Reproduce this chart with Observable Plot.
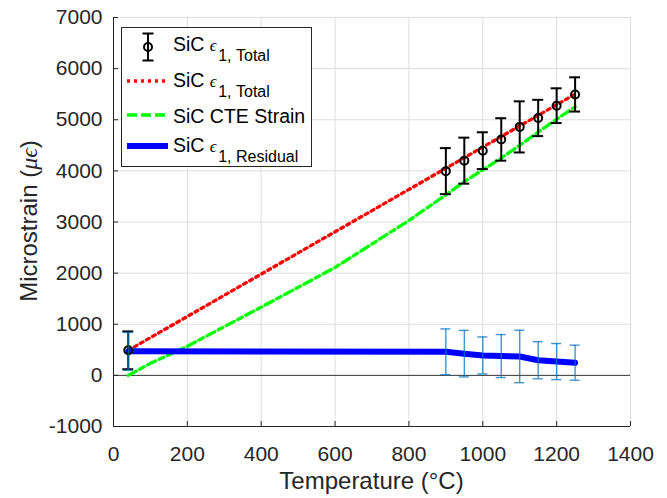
<!DOCTYPE html>
<html>
<head>
<meta charset="utf-8">
<script src="https://cdn.jsdelivr.net/npm/d3@7"></script>
<script src="https://cdn.jsdelivr.net/npm/@observablehq/plot@0.6"></script>
<style>
  html, body { margin: 0; padding: 0; background: #fff; }
  #chart { width: 667px; height: 498px; }
</style>
</head>
<body>
<div id="chart"></div>
<script>
// ---- data ----
const totalTemps   = [40, 900, 950, 1000, 1050, 1100, 1150, 1200, 1250];
const totalMean    = [490, 3995, 4200, 4395, 4615, 4860, 5035, 5275, 5495];
const totalErr     = [370, 450, 450, 360, 415, 500, 355, 340, 335];

const residualTemps = [40, 900, 950, 1000, 1050, 1100, 1150, 1200, 1250];
const residualMean  = [470, 462, 425, 390, 378, 370, 296, 270, 248];
const residualErr   = [370, 447, 455, 362, 420, 513, 363, 353, 343];

const fitTemps = [40, 1250];
const fitTotal = [490, 5500];

const cteTemps  = [40, 100, 200, 400, 600, 800, 900, 950, 1000, 1050, 1100, 1150, 1200, 1250];
const cteStrain = [0, 235, 570, 1335, 2110, 3030, 3530, 3790, 4020, 4250, 4500, 4760, 5010, 5254];

const xTicks = [0, 200, 400, 600, 800, 1000, 1200, 1400];
const yTicks = [-1000, 0, 1000, 2000, 3000, 4000, 5000, 6000, 7000];

const xTitle = "Temperature (°C)";
const yTitle = ["Microstrain (", "μϵ", ")"];
const legendLabels = [
  {main: "SiC ", eps: "ϵ", sub: "1, Total"},
  {main: "SiC ", eps: "ϵ", sub: "1, Total"},
  {main: "SiC CTE Strain", eps: "", sub: ""},
  {main: "SiC ", eps: "ϵ", sub: "1, Residual"}
];

// ---- tables ----
const total = totalTemps.map((t, i) => ({T: t, v: totalMean[i], lo: totalMean[i] - totalErr[i], hi: totalMean[i] + totalErr[i]}));
const resid = residualTemps.map((t, i) => ({T: t, v: residualMean[i], lo: residualMean[i] - residualErr[i], hi: residualMean[i] + residualErr[i]}));
const fit = fitTemps.map((t, i) => ({T: t, v: fitTotal[i]}));
const cte = cteTemps.map((t, i) => ({T: t, v: cteStrain[i]}));

const axisColor = "#262626";
const font = "'Liberation Sans', Arial, sans-serif";
const serif = "'Liberation Serif', 'DejaVu Serif', serif";
const fmt = d => String(d);

const plot = Plot.plot({
  width: 667,
  height: 498,
  marginLeft: 113,
  marginRight: 37,
  marginTop: 17,
  marginBottom: 72,
  style: {fontFamily: font, background: "#fff", color: axisColor, overflow: "visible"},
  x: {domain: [0, 1400], label: null},
  y: {domain: [-1000, 7000], label: null},
  marks: [
    Plot.gridX(xTicks, {stroke: "#dedede", strokeOpacity: 1}),
    Plot.gridY(yTicks, {stroke: "#dedede", strokeOpacity: 1}),
    Plot.ruleY([0], {stroke: "#3a3a3a", strokeWidth: 1}),
    // axis lines
    Plot.ruleX([0], {stroke: axisColor, strokeWidth: 1}),
    Plot.ruleY([-1000], {stroke: axisColor, strokeWidth: 1}),
    // inward ticks
    Plot.ruleY(yTicks, {x1: () => 0, x2: () => 0, insetRight: -5, stroke: axisColor}),
    Plot.ruleX(xTicks, {y1: () => -1000, y2: () => -1000, insetTop: -5, stroke: axisColor}),
    Plot.axisX(xTicks, {tickSize: 0, tickPadding: 20, fontSize: 21, fill: axisColor, tickFormat: fmt}),
    Plot.axisY(yTicks, {tickSize: 0, tickPadding: 11, fontSize: 21, fill: axisColor, tickFormat: fmt}),
    // series
    Plot.line(cte, {x: "T", y: "v", stroke: "#00ff00", strokeWidth: 3.3, strokeDasharray: "9,4,5,4"}),
    Plot.line(fit, {x: "T", y: "v", stroke: "#ff0000", strokeWidth: 3.3, strokeDasharray: "3,4"}),
    Plot.line(resid, {x: "T", y: "v", stroke: "#0000ff", strokeWidth: 6}),
    // total error bars
    Plot.ruleX(total, {x: "T", y1: "lo", y2: "hi", stroke: "#000", strokeWidth: 2}),
    Plot.ruleY(total, {y: "hi", x1: "T", x2: "T", insetLeft: -5.5, insetRight: -5.5, stroke: "#000", strokeWidth: 2}),
    Plot.ruleY(total, {y: "lo", x1: "T", x2: "T", insetLeft: -5.5, insetRight: -5.5, stroke: "#000", strokeWidth: 2}),
    Plot.dot(total, {x: "T", y: "v", r: 4, stroke: "#000", strokeWidth: 2, fill: "none"}),
    // residual error bars
    Plot.ruleX(resid, {x: "T", y1: "lo", y2: "hi", stroke: "#0072BD", strokeOpacity: 0.75, strokeWidth: 1.4}),
    Plot.ruleY(resid, {y: "hi", x1: "T", x2: "T", insetLeft: -5, insetRight: -5, stroke: "#0072BD", strokeOpacity: 0.75, strokeWidth: 1.4}),
    Plot.ruleY(resid, {y: "lo", x1: "T", x2: "T", insetLeft: -5, insetRight: -5, stroke: "#0072BD", strokeOpacity: 0.75, strokeWidth: 1.4})
  ]
});

document.getElementById("chart").appendChild(plot);

// ---- axis titles and legend (layout elements) ----
const svg = d3.select(plot);
svg.append("text")
  .attr("x", 371.5).attr("y", 489)
  .attr("text-anchor", "middle")
  .attr("fill", axisColor)
  .style("font-family", font).style("font-size", "24px")
  .text(xTitle);

const yl = svg.append("text")
  .attr("transform", "translate(37,221) rotate(-90)")
  .attr("text-anchor", "middle")
  .attr("fill", axisColor)
  .style("font-family", font)
  .style("font-size", "24px");
yl.append("tspan").text(yTitle[0]);
yl.append("tspan").text(yTitle[1]).style("font-family", serif).style("font-style", "italic");
yl.append("tspan").text(yTitle[2]);

const lg = svg.append("g");
lg.append("rect").attr("x", 121.5).attr("y", 27.5).attr("width", 190).attr("height", 139)
  .attr("fill", "#fff").attr("stroke", axisColor).attr("stroke-width", 1);

// entry 1: error bar icon
const ex = 148, ey = 47;
lg.append("line").attr("x1", ex).attr("x2", ex).attr("y1", ey - 13.5).attr("y2", ey + 13.5).attr("stroke", "#000").attr("stroke-width", 2);
lg.append("line").attr("x1", ex - 5.5).attr("x2", ex + 5.5).attr("y1", ey - 13.5).attr("y2", ey - 13.5).attr("stroke", "#000").attr("stroke-width", 2);
lg.append("line").attr("x1", ex - 5.5).attr("x2", ex + 5.5).attr("y1", ey + 13.5).attr("y2", ey + 13.5).attr("stroke", "#000").attr("stroke-width", 2);
lg.append("circle").attr("cx", ex).attr("cy", ey).attr("r", 4).attr("fill", "none").attr("stroke", "#000").attr("stroke-width", 2);
// entry 2-4 lines
lg.append("line").attr("x1", 127).attr("x2", 168).attr("y1", 81).attr("y2", 81).attr("stroke", "#ff0000").attr("stroke-width", 3.3).attr("stroke-dasharray", "3,4");
lg.append("line").attr("x1", 127).attr("x2", 168).attr("y1", 115).attr("y2", 115).attr("stroke", "#00ff00").attr("stroke-width", 3.3).attr("stroke-dasharray", "10,4");
lg.append("line").attr("x1", 127).attr("x2", 168).attr("y1", 146).attr("y2", 146).attr("stroke", "#0000ff").attr("stroke-width", 6);

const baselines = [51, 87, 123, 151.5];
legendLabels.forEach((d, i) => {
  const t = lg.append("text").attr("x", 173).attr("y", baselines[i]).attr("fill", "#000")
    .attr("text-anchor", "start")
    .style("font-family", font).style("font-size", "19.5px");
  t.append("tspan").text(d.main);
  if (d.eps) {
    t.append("tspan").text(d.eps).style("font-family", serif).style("font-style", "italic").style("font-size", "17px");
    t.append("tspan").text(d.sub).attr("dy", 10).attr("dx", 1.5).style("font-size", "16px");
  }
});
</script>
</body>
</html>
